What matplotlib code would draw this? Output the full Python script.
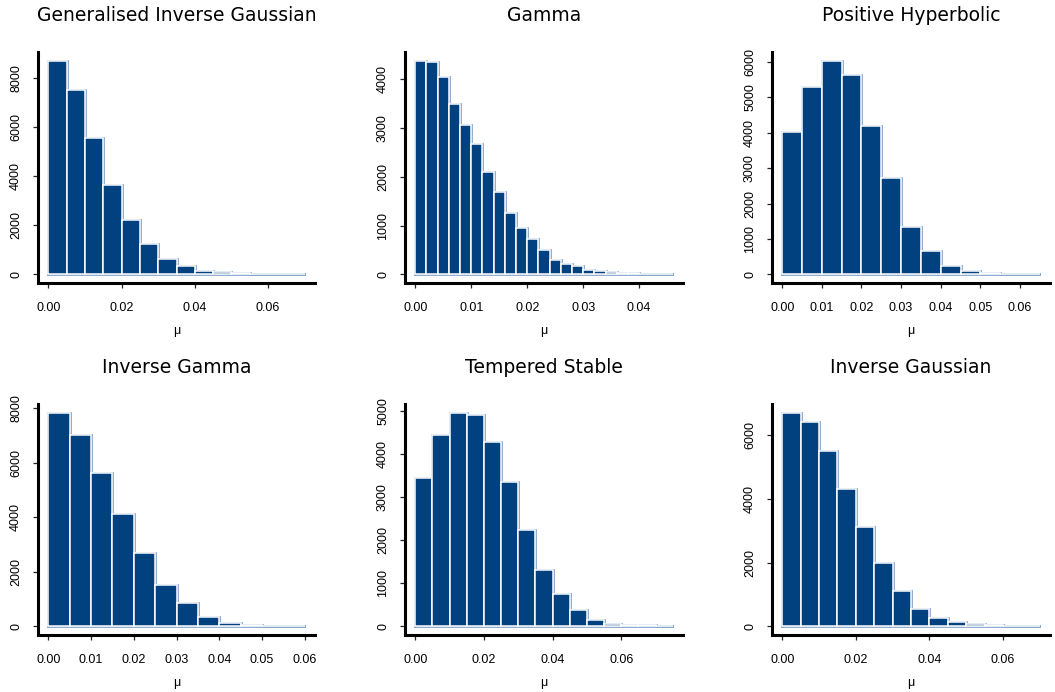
import matplotlib
matplotlib.use("Agg")
import matplotlib.pyplot as plt
import numpy as np

plt.rcParams['font.family'] = ['Liberation Sans', 'DejaVu Sans']

# Histogram counts of the posterior draws of mu, one list per mixing distribution
titles = ["Generalised Inverse Gaussian", "Gamma", "Positive Hyperbolic",
          "Inverse Gamma", "Tempered Stable", "Inverse Gaussian"]

gig_counts = [8720, 7520, 5570, 3630, 2220, 1260, 650, 340, 150, 95, 55, 27, 14, 14]
gamma_counts = [4375, 4345, 4045, 3490, 3050, 2665, 2095, 1680, 1250, 945, 730,
                495, 305, 205, 180, 100, 68, 41, 27, 20, 14, 7, 7]
ph_counts = [4005, 5280, 6030, 5610, 4195, 2725, 1340, 665, 245, 105, 37, 19, 9]
invgamma_counts = [7845, 7015, 5615, 4115, 2690, 1525, 875, 355, 120, 60, 25, 22]
ts_counts = [3445, 4425, 4955, 4890, 4270, 3355, 2230, 1310, 755, 370, 140,
             62, 38, 23, 15]
invgauss_counts = [6695, 6405, 5490, 4315, 3100, 1975, 1110, 550, 260, 125,
                   73, 31, 10, 10]

bin_widths = [0.005, 0.002, 0.005, 0.005, 0.005, 0.005]
all_counts = [gig_counts, gamma_counts, ph_counts,
              invgamma_counts, ts_counts, invgauss_counts]

x_ticks = [[0, 0.02, 0.04, 0.06],
           [0, 0.01, 0.02, 0.03, 0.04],
           [0, 0.01, 0.02, 0.03, 0.04, 0.05, 0.06],
           [0, 0.01, 0.02, 0.03, 0.04, 0.05, 0.06],
           [0, 0.02, 0.04, 0.06],
           [0, 0.02, 0.04, 0.06]]
y_ticks = [[0, 2000, 4000, 6000, 8000],
           [0, 1000, 2000, 3000, 4000],
           [0, 1000, 2000, 3000, 4000, 5000, 6000],
           [0, 2000, 4000, 6000, 8000],
           [0, 1000, 2000, 3000, 4000, 5000],
           [0, 2000, 4000, 6000]]

W, H = 1055, 692
fig = plt.figure(figsize=(W / 100, H / 100), dpi=100)

col_left = [38, 405, 772]
col_right = [315, 683, 1050]
row_top = [52, 404]
row_bottom = [283, 635]

FILL = "#01417f"
OUTLINE = "#86a5cb"

for i, (title, counts, bw) in enumerate(zip(titles, all_counts, bin_widths)):
    r, c = divmod(i, 3)
    l, rr = col_left[c], col_right[c]
    t, b = row_top[r], row_bottom[r]
    ax = fig.add_axes([l / W, 1 - b / H, (rr - l) / W, (b - t) / H])

    counts = np.asarray(counts, dtype=float)
    edges = np.arange(len(counts) + 1) * bw

    # outer outline of the histogram, drawn underneath the bars
    xs = np.concatenate([[edges[0]], np.repeat(edges, 2)[1:-1], [edges[-1]], [edges[0]]])
    ys = np.concatenate([[0], np.repeat(counts, 2), [0], [0]])
    ax.plot(xs, ys, color=OUTLINE, lw=2.0, zorder=1, solid_joinstyle="miter")

    ax.bar(edges[:-1], counts, width=bw, align="edge", color=FILL,
           edgecolor="white", linewidth=1.1, zorder=2)

    lo, hi = edges[0], edges[-1]
    span = hi - lo
    ax.set_xlim(lo - 0.04 * span, hi + 0.04 * span)
    ymax = counts.max()
    ax.set_ylim(-0.04 * ymax, 1.04 * ymax)

    ax.set_xticks(x_ticks[i])
    ax.set_xticklabels([f"{v:.2f}" for v in x_ticks[i]])
    ax.set_yticks(y_ticks[i])
    ax.set_yticklabels([str(v) for v in y_ticks[i]], rotation=90, va="center")

    for side in ("top", "right"):
        ax.spines[side].set_visible(False)
    for side in ("left", "bottom"):
        ax.spines[side].set_linewidth(2.2)
        ax.spines[side].set_color("black")
    ax.tick_params(axis="both", direction="out", length=3.5, width=0.9,
                   labelsize=9, color="#222222")
    ax.tick_params(axis="x", pad=10)
    ax.tick_params(axis="y", pad=8)

    ax.set_xlabel("\u03bc", fontsize=9)
    ax.xaxis.set_label_coords(0.5, -48 / (b - t))
    ax.xaxis.label.set_va("center")

    ax.set_title(title, fontsize=13.5, pad=22, family=["DejaVu Sans"])

fig.savefig("out.png", dpi=100)
